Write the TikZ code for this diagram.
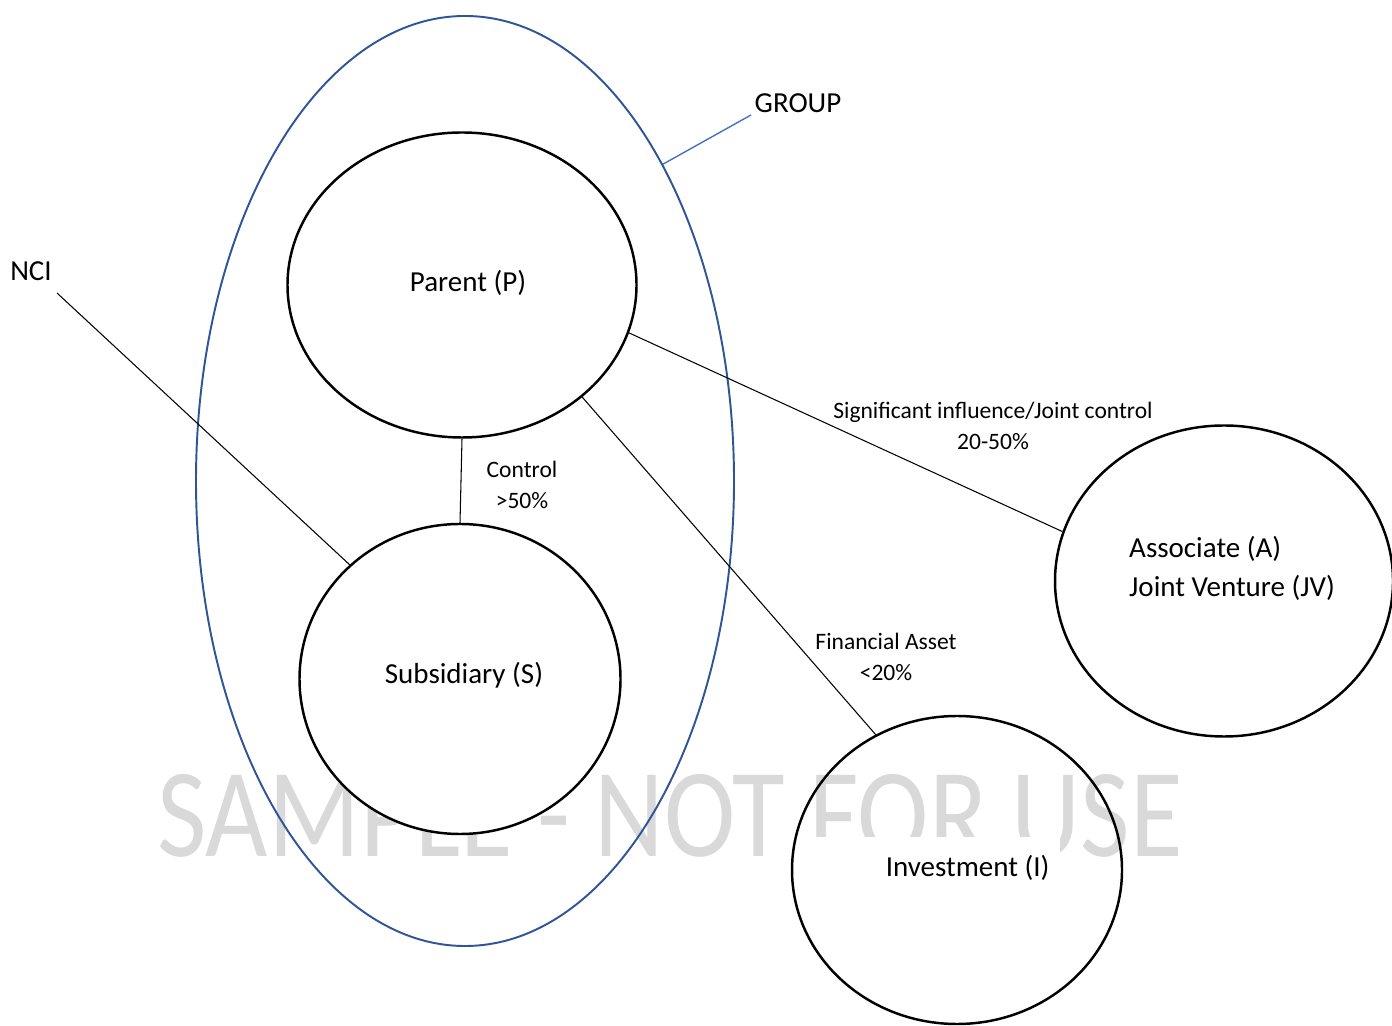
\documentclass[tikz,border=0pt]{standalone}
\usepackage{fontspec}
\setmainfont{Carlito}
\usepackage{tikz}
\usetikzlibrary{shapes.geometric, positioning}
\definecolor{grpblue}{HTML}{2F5597}
\definecolor{leadblue}{HTML}{4472C4}
\definecolor{wmgray}{HTML}{D9D9D9}
\tikzset{
  entity/.style={ellipse, draw=black, line width=0.7pt, inner sep=0pt},
  grpshape/.style={ellipse, draw=grpblue, line width=0.55pt, inner sep=0pt},
  lbl/.style={font=\fontsize{8.25}{11.1}\selectfont, inner sep=1pt},
  rel/.style={font=\fontsize{6.7}{8.8}\selectfont, align=center, inner sep=1pt},
  link/.style={draw=black, line width=0.3pt},
  wmark/.style={text=wmgray, font=\fontsize{30}{30}\selectfont, inner sep=0pt}
}

\begin{document}
\begin{tikzpicture}
  \useasboundingbox (0,0) rectangle (13.92,-10.26);
  \clip (0,0) rectangle (13.92,-10.26);
  % watermark behind everything
  \node[wmark, xscale=1.02, yscale=1.2] (wm) at (6.70,-8.16) {SAMPLE - NOT FOR USE};

  \node[grpshape, minimum width=5.38cm, minimum height=9.30cm] (grp) at (4.65,-4.81) {};
  \node[entity, minimum width=3.49cm, minimum height=3.05cm] (par) at (4.62,-2.85) {};
  \node[entity, fill=white, minimum width=3.21cm, minimum height=3.10cm] (sub) at (4.60,-6.79) {};
  \node[entity, minimum width=3.38cm, minimum height=3.11cm] (asc) at (12.24,-5.81) {};
  \node[entity, minimum width=3.30cm, minimum height=3.08cm] (inv) at (9.57,-8.70) {};

  \node[lbl] (parlbl) at (4.68,-2.83) {Parent (P)};
  \node[lbl] (sublbl) at (4.64,-6.75) {Subsidiary (S)};
  \node[lbl, align=left, anchor=west] (asclbl) at (11.25,-5.68) {Associate (A)\\Joint Venture (JV)};
  \node[lbl, fill=white, minimum width=2.45cm, minimum height=0.62cm, text width=2.25cm,
        align=flush right] (invlbl) at (9.37,-8.68) {Investment (I)};
  \node[lbl] (grplbl) at (7.98,-1.03) {GROUP};
  \node[lbl] (ncilbl) at (0.31,-2.71) {NCI};
  \node[rel] (ctl) at (5.22,-4.85) {Control\\>50\%};
  \node[rel] (sig) at (9.93,-4.26) {Significant influence/Joint control\\20-50\%};
  \node[rel] (fin) at (8.86,-6.57) {Financial Asset\\<20\%};

  \coordinate (ncitip) at (0.57,-2.93);
  \coordinate (grptip) at (7.51,-1.15);
  \draw[link] (par.south) -- (sub.north);
  \draw[link] (par.-16) -- (asc.163.7);
  \draw[link] (par.-43.3) -- (inv.121);
  \draw[link] (ncitip) -- (sub.134.5);
  \draw[leadblue, line width=0.4pt] (grp.58) -- (grptip);
\end{tikzpicture}
\end{document}
